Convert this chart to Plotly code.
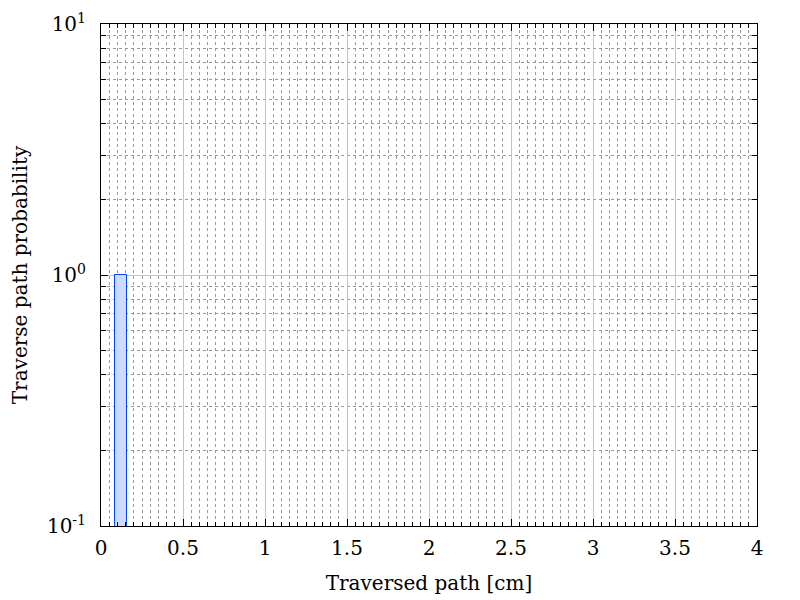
import plotly.graph_objects as go

# Data
bin_centers = [0.1235]
bin_widths = [0.073]
probabilities = [1.0]

y_tick_vals = [0.1, 1, 10]
y_tick_text = ["10<sup>-1</sup>", "10<sup>0</sup>", "10<sup>1</sup>"]
y_minor_vals = [m * 10 ** k for k in (-1, 0) for m in range(2, 10)]

font_family = "DejaVu Serif"

fig = go.Figure()
fig.add_trace(go.Bar(
    x=bin_centers, y=probabilities, width=bin_widths,
    marker=dict(color="rgba(204,218,255,1)", line=dict(color="rgb(0,70,255)", width=1)),
    showlegend=False,
))

fig.update_layout(
    width=800, height=600,
    margin=dict(l=93, r=51, t=16, b=82, autoexpand=False),
    plot_bgcolor="white", paper_bgcolor="white",
    font=dict(family=font_family, size=20, color="black"),
    bargap=0,
)
fig.update_xaxes(
    range=[0, 4], dtick=0.5, tick0=0,
    showline=True, linecolor="black", linewidth=1, mirror="allticks",
    ticks="inside", ticklen=7, tickcolor="black",
    showgrid=True, gridcolor="#c4c4c4", gridwidth=1,
    zeroline=False, ticklabelstandoff=4,
    minor=dict(dtick=0.05, tick0=0, ticks="inside", ticklen=4, tickcolor="black",
               showgrid=True, gridcolor="#999999", griddash="dot", gridwidth=1),
    title=dict(text="Traversed path [cm]", font=dict(size=20), standoff=16),
    tickfont=dict(size=20),
)
fig.update_yaxes(
    type="log", range=[-1, 1],
    tickmode="array", tickvals=y_tick_vals, ticktext=y_tick_text,
    showline=True, linecolor="black", linewidth=1, mirror="allticks",
    ticks="inside", ticklen=7, tickcolor="black",
    showgrid=True, gridcolor="#c4c4c4", gridwidth=1,
    zeroline=False, ticklabelstandoff=10,
    minor=dict(tickmode="array", tickvals=y_minor_vals, ticks="inside", ticklen=5, tickcolor="black",
               showgrid=True, gridcolor="#999999", griddash="dot", gridwidth=1),
    title=dict(text="Traverse path probability", font=dict(size=20), standoff=16),
    tickfont=dict(size=20),
)

fig.write_html("out.html")
